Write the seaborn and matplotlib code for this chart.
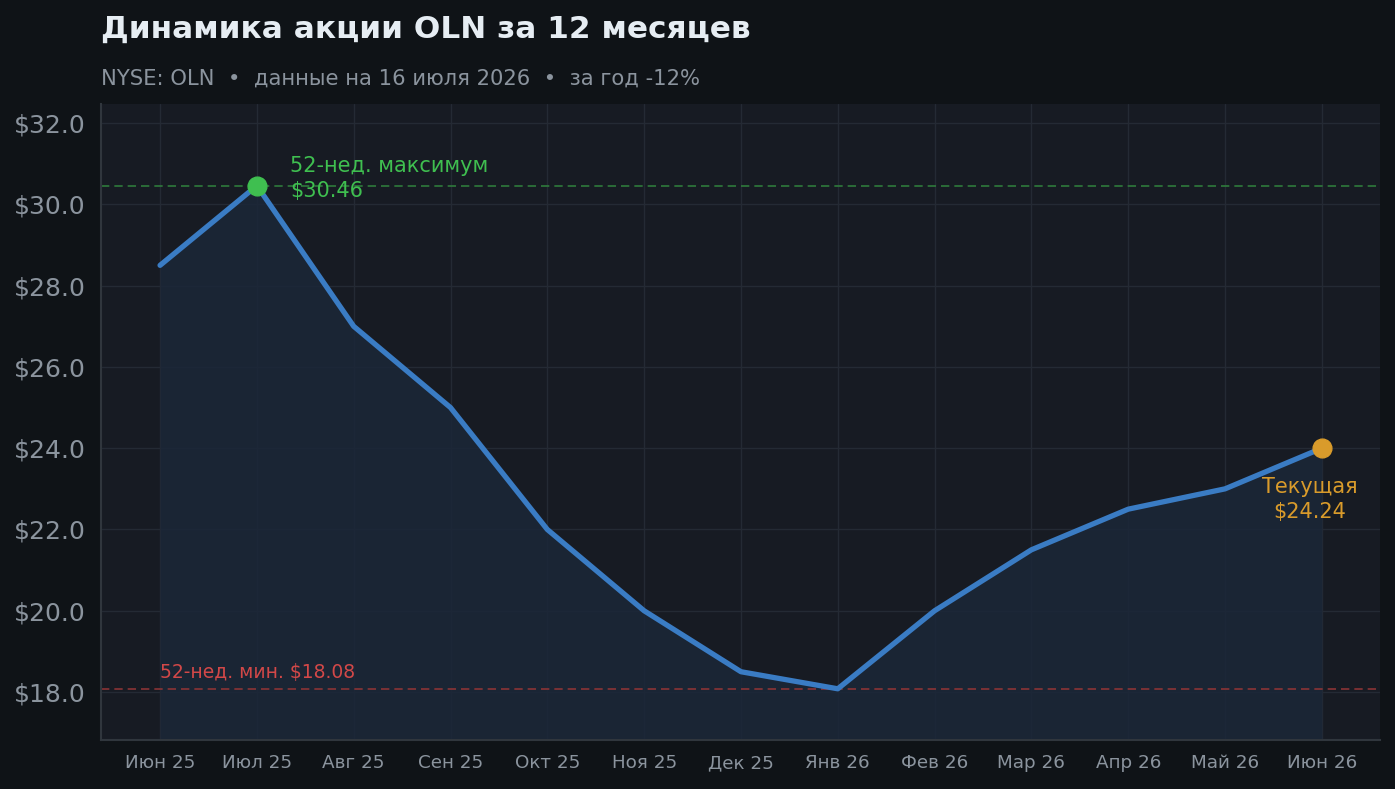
import matplotlib
matplotlib.use("Agg")
import matplotlib.pyplot as plt
import seaborn as sns
import pandas as pd

months = ["Июн 25", "Июл 25", "Авг 25", "Сен 25", "Окт 25", "Ноя 25", "Дек 25",
          "Янв 26", "Фев 26", "Мар 26", "Апр 26", "Май 26", "Июн 26"]
prices = [28.5, 30.46, 27.0, 25.0, 22.0, 20.0, 18.5, 18.08, 20.0, 21.5, 22.5, 23.0, 24.0]
high_value = 30.46
low_value = 18.08
current_label = 24.24
y_ticks = [18.0, 20.0, 22.0, 24.0, 26.0, 28.0, 30.0, 32.0]

FIG_BG = "#0f1317"
AX_BG = "#171b23"
LINE = "#3a7cc4"
GREEN = "#3fbf50"
ORANGE = "#d99b2b"
RED = "#d24848"
TXT = "#8b949e"
GRID = "#242a34"

sns.set_theme(style="dark")
plt.rcParams['font.family'] = ['DejaVu Sans']

df = pd.DataFrame({"idx": range(len(months)), "price": prices})

fig = plt.figure(figsize=(13.95, 7.89), dpi=100, facecolor=FIG_BG)
ax = fig.add_axes([0.0724, 0.0621, 0.9168, 0.8061])
ax.set_facecolor(AX_BG)

ylo, yhi = 16.82, 32.47
ax.fill_between(df["idx"], df["price"], ylo, color="#1b2738", alpha=0.85, zorder=1, linewidth=0)
sns.lineplot(data=df, x="idx", y="price", ax=ax, color=LINE, linewidth=3.8, zorder=3)

ax.axhline(high_value, color="#2f7a3c", linestyle=(0, (5, 3)), linewidth=1.2, zorder=2)
ax.axhline(low_value, color="#8a3436", linestyle=(0, (5, 3)), linewidth=1.2, zorder=2)

imax = prices.index(max(prices))
ax.plot([imax], [prices[imax]], "o", color=GREEN, markersize=13.5, zorder=4)
ax.plot([len(prices) - 1], [prices[-1]], "o", color=ORANGE, markersize=13.5, zorder=4)

ax.annotate(f"52-нед. максимум\n${high_value:.2f}", xy=(imax, high_value), xytext=(24, 5),
            textcoords="offset points", ha="left", va="center", color=GREEN, fontsize=15,
            linespacing=1.3)
ax.annotate(f"Текущая\n${current_label:.2f}", xy=(len(prices) - 1, prices[-1]), xytext=(-9, -21),
            textcoords="offset points", ha="center", va="top", color=ORANGE, fontsize=15,
            linespacing=1.3)
ax.annotate(f"52-нед. мин. ${low_value:.2f}", xy=(0, low_value), xytext=(0, 5),
            textcoords="offset points", ha="left", va="bottom", color=RED, fontsize=13.5)

ax.set_xlim(-0.61, 12.6)
ax.set_ylim(ylo, yhi)
ax.set_xticks(range(len(months)))
ax.set_xticklabels(months)
ax.set_yticks(y_ticks)
ax.set_yticklabels([f"${v:.1f}" for v in y_ticks])
ax.set_xlabel("")
ax.set_ylabel("")
ax.grid(True, color=GRID, linewidth=1.0)
ax.set_axisbelow(True)
ax.tick_params(axis="x", colors="#6e7681", labelcolor=TXT, labelsize=13.2, length=5, width=1.2, pad=5)
ax.tick_params(axis="y", colors="#6e7681", labelcolor=TXT, labelsize=18, length=5, width=1.2, pad=6)
for s in ["top", "right"]:
    ax.spines[s].set_visible(False)
for s in ["left", "bottom"]:
    ax.spines[s].set_visible(True)
    ax.spines[s].set_color("#30363d")
    ax.spines[s].set_linewidth(1.5)

fig.text(0.0724, 0.952, "Динамика акции OLN за 12 месяцев", color="#e6edf3",
         fontsize=22.4, fontweight="bold", ha="left", va="baseline")
fig.text(0.0724, 0.893, "NYSE: OLN  •  данные на 16 июля 2026  •  за год -12%", color=TXT,
         fontsize=15.2, ha="left", va="baseline")

fig.savefig("out.png", dpi=100, facecolor=FIG_BG)
